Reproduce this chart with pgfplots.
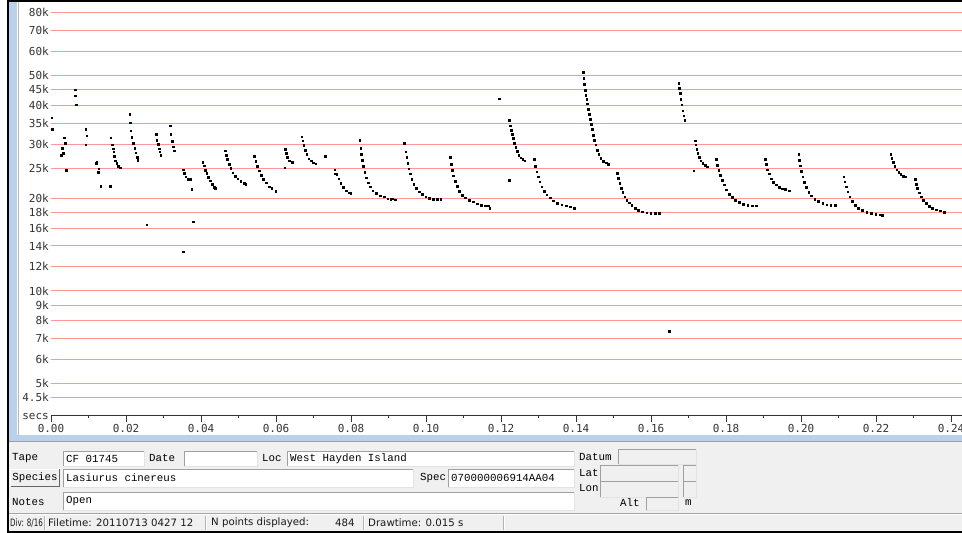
\documentclass[border=0pt]{standalone}
\usepackage{pgfplots}
\pgfplotsset{compat=1.18}
\usepackage{fontspec}
\setmainfont{DejaVu Sans}
\newfontfamily\monofont{Liberation Mono}
\newfontfamily\tickfont{DejaVu Sans Mono}
\definecolor{gridpink}{RGB}{255,150,150}
\definecolor{frameblue}{RGB}{185,209,234}
\definecolor{panelgray}{RGB}{240,240,240}
\definecolor{flddark}{RGB}{160,160,160}
\definecolor{fldlight}{RGB}{227,227,227}
\newcommand{\fld}[5]{%
  \fill[#5] (#1,#2) rectangle (#3,#4);
  \draw[line width=0.9pt, flddark] (#1,#4) -- (#1,#2) -- (#3,#2);
  \draw[line width=0.9pt, fldlight] (#3,#2) -- (#3,#4) -- (#1,#4);
}
\newcommand{\lbl}[3]{\node[anchor=west, inner sep=0pt, font=\monofont\fontsize{10.8}{12}\selectfont, text=black] at (#1,#2) {#3};}
\newcommand{\stat}[3]{\node[anchor=west, inner sep=0pt, font=\fontsize{10.2}{12}\selectfont, text=black!90] at (#1,#2) {#3};}
\begin{document}
\begin{tikzpicture}
\path[use as bounding box, clip] (0,0) rectangle (962pt,533pt);
\fill[white] (0,0) rectangle (962pt,533pt);
\begin{scope}[yshift=533pt, x=1pt, y=-1pt]
  \fill[panelgray] (9,441) rectangle (962,531);
  \fill[frameblue] (9,1.7) rectangle (17.3,441);
  \fill[frameblue] (9,435) rectangle (962,441);
  \draw[gray!55, line width=1pt] (18,1.7) -- (18,435);
  \draw[gray!75, line width=1pt] (9,442) -- (962,442);
  \fill[black] (7,0) rectangle (9,533);
  \fill[black] (7,0) rectangle (962,1.7);
  \fill[black] (7,531) rectangle (962,533);
\end{scope}
\begin{axis}[
  at={(51pt,118pt)}, anchor=south west,
  scale only axis, width=911pt, height=413pt,
  xmin=0, xmax=0.24293,
  ymode=log, ymin=3958, ymax=86770,
  axis x line*=bottom, axis y line*=left,
  y axis line style={draw=none},
  x axis line style={black!80, line width=0.9pt},
  xtick={0,0.02,0.04,0.06,0.08,0.10,0.12,0.14,0.16,0.18,0.20,0.22,0.24},
  xticklabels={0.00,0.02,0.04,0.06,0.08,0.10,0.12,0.14,0.16,0.18,0.20,0.22,0.24},
  minor xtick={0.01,0.03,0.05,0.07,0.09,0.11,0.13,0.15,0.17,0.19,0.21,0.23},
  xtick align=outside, major tick length=7pt, minor tick length=3pt,
  every tick/.style={black!80, line width=0.9pt},
  ytick={4500,5000,6000,7000,8000,9000,10000,12000,14000,16000,18000,20000,25000,30000,35000,40000,45000,50000,60000,70000,80000},
  yticklabels={4.5k,5k,6k,7k,8k,9k,10k,12k,14k,16k,18k,20k,25k,30k,35k,40k,45k,50k,60k,70k,80k},
  ytick style={draw=none},
  ymajorgrids, major grid style={gridpink, line width=1pt},
  yticklabel style={font=\tickfont\fontsize{11}{13}\selectfont, text=black!80, inner sep=0pt, anchor=east, xshift=-2pt},
  xticklabel style={font=\tickfont\fontsize{11}{13}\selectfont, text=black!80, inner sep=0pt, anchor=north, yshift=-2pt},
]
\addplot[only marks, mark=square*, mark size=0.75pt, black, mark options={draw=black, fill=black}] table {
t f
0.0002 36500
0.0003 33500
0.00267 27600
0.0030 29100
0.0032 28050
0.00347 31450
0.00373 30200
0.0040 24700
0.0064 45000
0.00648 43100
0.00667 40200
0.00925 33500
0.0095 31900
0.00925 29850
0.0120 26000
0.0122 26200
0.01253 24300
0.0127 24950
0.01325 21900
0.01573 21900
0.0159 31450
0.01627 29900
0.01653 29000
0.01672 28300
0.01688 27400
0.01715 26500
0.01752 26000
0.01795 25400
0.0184 25100
0.0210 37500
0.02107 35200
0.02125 33150
0.02152 31550
0.02195 30200
0.0223 29100
0.02259 28100
0.02293 27200
0.02312 26600
0.02552 16400
0.0280 32350
0.02819 30900
0.02853 30000
0.0288 29000
0.02899 28300
0.02925 27650
0.03173 34400
0.03192 32350
0.03227 30700
0.03253 29400
0.0328 28500
0.03528 24800
0.03555 24100
0.03592 23500
0.03645 23100
0.03707 23050
0.03752 21400
0.03795 16800
0.0352 13400
0.04045 26200
0.0408 25500
0.04115 24700
0.04152 24100
0.04195 23400
0.0424 22800
0.04293 22250
0.04347 21700
0.04381 21550
0.0464 28550
0.04667 27650
0.04701 26800
0.04747 25850
0.04792 25000
0.04845 24200
0.04907 23600
0.04979 23150
0.05059 22750
0.05147 22400
0.05192 22250
0.05421 27400
0.05459 26400
0.05501 25450
0.05547 24600
0.0560 23800
0.05661 23050
0.05733 22500
0.05821 21800
0.05885 21550
0.05992 21100
0.06232 25100
0.06248 28900
0.06267 28000
0.06301 27200
0.06355 26500
0.06427 26200
0.06685 31700
0.06712 30750
0.06739 29700
0.06773 28700
0.06819 27850
0.06872 26900
0.06933 26500
0.06995 26100
0.07059 25900
0.07307 27400
0.07565 24800
0.07581 24000
0.07619 23900
0.07672 23150
0.07725 22400
0.07795 21700
0.07867 21200
0.07947 20850
0.07992 20800
0.08232 30900
0.08259 29100
0.08275 27850
0.08301 26600
0.08328 25450
0.08365 24350
0.08400 23300
0.08453 22500
0.08507 21800
0.08579 21200
0.08667 20750
0.08773 20400
0.08880 20200
0.08979 19950
0.09059 19900
0.09112 19950
0.09173 19800
0.09421 30200
0.09459 28300
0.09485 27200
0.09512 26000
0.09539 24950
0.09573 24000
0.09619 23050
0.09672 22250
0.09733 21550
0.09813 21000
0.09901 20600
0.09992 20250
0.10088 20000
0.10195 19900
0.10301 19900
0.10392 19900
0.10640 27200
0.10667 25850
0.10693 24700
0.10728 23700
0.10773 22750
0.10827 21900
0.10888 21100
0.10960 20500
0.11048 20100
0.11155 19750
0.11261 19500
0.11368 19200
0.11475 19000
0.11581 18900
0.11653 18900
0.11699 18550
0.11955 42100
0.12213 35900
0.12240 34400
0.12267 33300
0.12293 32350
0.12320 31300
0.12355 30200
0.12392 29300
0.12427 28400
0.12472 27650
0.12525 27100
0.12579 26800
0.12632 26500
0.12213 22900
0.12888 26800
0.12915 25450
0.12952 24400
0.12987 23500
0.13032 22600
0.13085 21800
0.13147 21100
0.13219 20550
0.13307 20050
0.13395 19650
0.13501 19300
0.13619 19050
0.13733 18900
0.13840 18800
0.13947 18550
0.14187 51300
0.14205 49000
0.14221 47000
0.14240 44950
0.14259 43300
0.14285 41900
0.14301 40500
0.14328 38900
0.14355 37500
0.14381 36100
0.14408 34850
0.14435 33500
0.14461 32100
0.14488 30900
0.14525 29800
0.14560 28700
0.14605 27800
0.14659 27000
0.14728 26400
0.14800 26100
0.14861 25850
0.15101 24100
0.15128 23200
0.15165 22400
0.15200 21600
0.15245 20900
0.15299 20250
0.15352 19750
0.15413 19350
0.15485 18970
0.15573 18600
0.15661 18300
0.15768 18100
0.15885 17950
0.15992 17900
0.16107 17900
0.16221 17870
0.16480 7410
0.16739 47250
0.16755 45500
0.16773 43850
0.16792 41900
0.16819 40200
0.16845 38500
0.16872 37100
0.16899 35800
0.17139 24600
0.17173 30750
0.17192 29800
0.17219 28850
0.17245 28000
0.17280 27200
0.17325 26500
0.17379 26000
0.17440 25600
0.17493 25300
0.17733 26800
0.17768 25650
0.17805 24700
0.17848 23800
0.17893 22900
0.17947 22100
0.18008 21300
0.18080 20650
0.18160 20150
0.18248 19750
0.18347 19400
0.18461 19100
0.18579 18970
0.18693 18900
0.18800 18900
0.19040 26800
0.19067 25800
0.19101 24800
0.19147 24000
0.19200 23150
0.19261 22550
0.19333 22100
0.19413 21700
0.19493 21500
0.19581 21400
0.19688 21200
0.19939 27800
0.19955 26600
0.19981 25500
0.20008 24500
0.20045 23500
0.20088 22550
0.20141 21700
0.20205 20960
0.20275 20400
0.20365 19900
0.20461 19550
0.20579 19250
0.20685 19050
0.20792 18970
0.20907 18970
0.21139 23500
0.21165 22600
0.21200 21800
0.21245 21000
0.21299 20250
0.21360 19600
0.21440 19000
0.21528 18600
0.21635 18300
0.21752 18050
0.21875 17870
0.21992 17780
0.22107 17700
0.22160 17650
0.22392 27800
0.22419 27000
0.22453 26200
0.22499 25450
0.22552 24800
0.22605 24300
0.22659 23900
0.22728 23600
0.22781 23500
0.23040 23100
0.23067 22250
0.23101 21550
0.23147 20850
0.23200 20250
0.23261 19750
0.23333 19250
0.23413 18870
0.23501 18600
0.23600 18350
0.23707 18200
0.23813 18050
};
\end{axis}
\begin{scope}[yshift=533pt, x=1pt, y=-1pt]
  \node[anchor=base east, inner sep=0pt, font=\tickfont\fontsize{11}{13}\selectfont, text=black!80] at (49,420) {secs};
  % row 1
  \lbl{12}{458}{Tape}
  \fld{63}{451}{144}{466}{white}
  \lbl{66}{458.5}{CF 01745}
  \lbl{149}{458}{Date}
  \fld{184}{451}{257}{466}{white}
  \lbl{262}{458}{Loc}
  \fld{287}{451}{574}{466}{white}
  \lbl{290}{458.5}{West Hayden Island}
  \lbl{579}{457}{Datum}
  \fld{618}{449}{696}{464}{panelgray}
  % row 2
  \fill[panelgray] (10,469) rectangle (60,487);
  \draw[white, line width=1pt] (10.5,486.5) -- (10.5,469.5) -- (59.5,469.5);
  \draw[gray!80!black, line width=1pt] (59.5,469.5) -- (59.5,486.5) -- (10.5,486.5);
  \node[inner sep=0pt, font=\monofont\fontsize{10.8}{12}\selectfont, text=black] at (35,478) {Species};
  \fld{63}{469}{413}{487}{white}
  \lbl{66}{478}{Lasiurus cinereus}
  \lbl{420}{478}{Spec}
  \fld{448}{469}{574}{487}{white}
  \lbl{451}{478}{070000006914AA04}
  \lbl{579}{473}{Lat}
  \fld{600}{465}{678}{481}{panelgray}
  \fld{683}{465}{696}{481}{panelgray}
  \lbl{579}{488}{Lon}
  \fld{600}{481}{678}{497}{panelgray}
  \fld{683}{481}{696}{497}{panelgray}
  % row 3
  \lbl{12}{502}{Notes}
  \fld{63}{492}{574}{510}{white}
  \lbl{66}{501}{Open}
  \lbl{620}{503}{Alt}
  \fld{646}{497}{678}{510}{panelgray}
  \lbl{685}{503}{m}
  % status bar
  \draw[gray!70, line width=1pt] (9,513.5) -- (962,513.5);
  \draw[white, line width=1pt] (9,514.5) -- (962,514.5);
  \foreach \sx in {44,205,363,503} {
    \draw[gray!60, line width=1pt] (\sx,516) -- (\sx,530);
    \draw[white, line width=1pt] (\sx+1,516) -- (\sx+1,530);
  }
  \node[anchor=west, inner sep=0pt, font=\fontsize{10.2}{12}\selectfont, text=black!90] at (10,523) {\scalebox{0.7}[1]{Div: 8/16}};
  \stat{48}{523}{Filetime: 20110713 0427 12}
  \stat{211}{523}{N points displayed:}
  \stat{335}{523}{484}
  \stat{368}{523}{Drawtime: 0.015 s}
\end{scope}
\end{tikzpicture}
\end{document}
